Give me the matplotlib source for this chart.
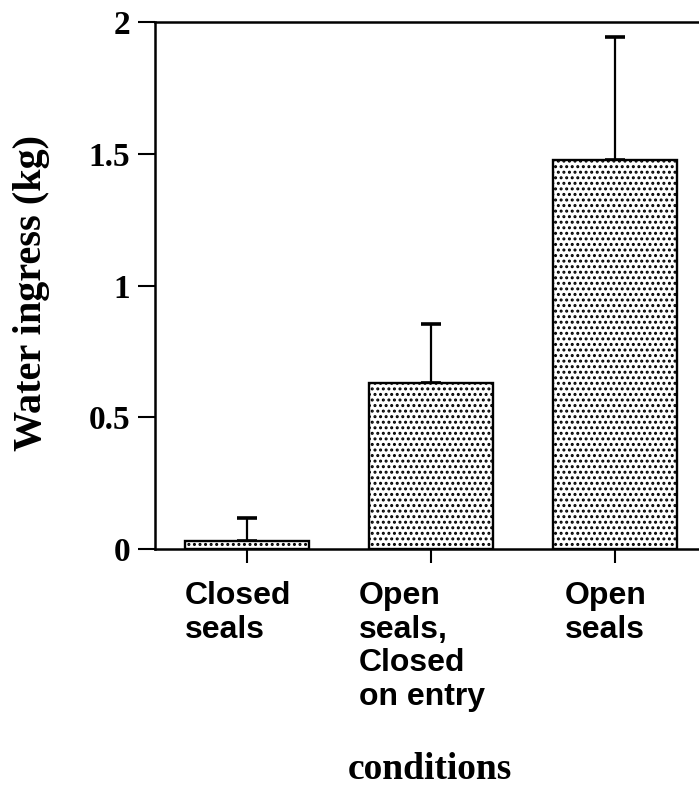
import matplotlib.pyplot as plt
import matplotlib.transforms as mtransforms
import numpy as np

# data
conditions = ['Closed\nseals', 'Open\nseals,\nClosed\non entry', 'Open\nseals']
ingress_kg = [0.03, 0.63, 1.475]
ingress_err = [0.088, 0.224, 0.468]

y_ticks = [0, 0.5, 1, 1.5, 2]
y_tick_labels = ['0', '0.5', '1', '1.5', '2']

plt.rcParams['hatch.linewidth'] = 1.4
plt.rcParams['hatch.color'] = 'black'

fig = plt.figure(figsize=(6.99, 7.88), dpi=100)
ax = fig.add_axes([0.2217, 0.3033, 0.7783, 0.6687])

x = np.arange(len(conditions))
ax.bar(x, ingress_kg, width=0.67, color='white', edgecolor='black',
       linewidth=1.7, hatch='...', zorder=2)
ax.errorbar(x, ingress_kg, yerr=[np.zeros(len(x)), ingress_err], fmt='none',
            ecolor='black', elinewidth=1.6, capsize=7, capthick=2.6, zorder=1)

ax.set_xlim(-0.5, 2.457)
ax.set_ylim(0, 2)

for side in ['left', 'top', 'bottom']:
    ax.spines[side].set_linewidth(1.8)
ax.spines['right'].set_visible(False)

ax.tick_params(axis='y', direction='out', length=12, width=1.5, pad=6)
ax.tick_params(axis='x', direction='out', length=10, width=1.5, pad=13)

ax.set_yticks(y_ticks)
ax.set_yticklabels(y_tick_labels, fontfamily='Liberation Serif',
                   fontweight='bold', fontsize=24)
ax.set_xticks(x)
ax.set_xticklabels(conditions, fontfamily='Liberation Sans', fontweight='bold',
                   fontsize=23, multialignment='left', linespacing=1.16)

# labels sit a little left of the bar centres in the original
# (done after tick_params, which resets the label transforms)
shift = mtransforms.ScaledTranslation(-9 / 100, 0, fig.dpi_scale_trans)
for lab in ax.get_xticklabels():
    lab.set_transform(lab.get_transform() + shift)

ax.set_ylabel('Water ingress (kg)', fontfamily='Liberation Serif',
              fontweight='bold', fontsize=29)
ax.yaxis.set_label_coords(-0.193, 0.485)
ax.set_xlabel('conditions', fontfamily='Liberation Serif',
              fontweight='bold', fontsize=27)
ax.xaxis.set_label_coords(0.505, -0.385)

plt.savefig('out.png', dpi=100)
plt.close()
